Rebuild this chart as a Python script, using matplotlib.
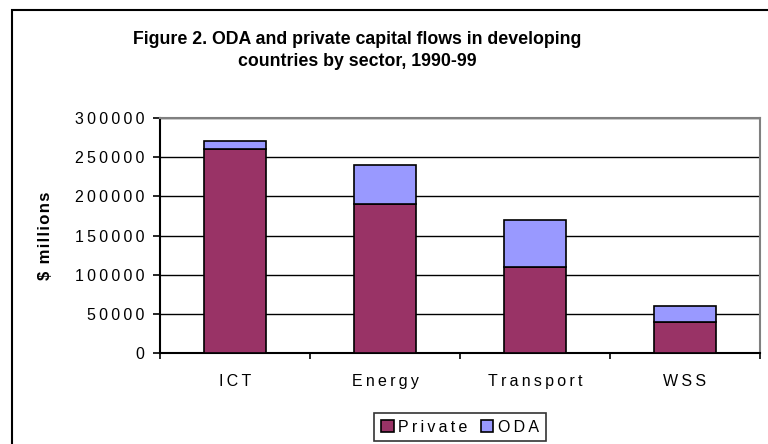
import matplotlib
matplotlib.use("Agg")
import matplotlib.pyplot as plt
from matplotlib.patches import Rectangle
import numpy as np

plt.rcParams["font.family"] = ["Liberation Sans", "DejaVu Sans"]

sectors = ["ICT", "Energy", "Transport", "WSS"]
private = [260000, 190000, 110000, 40000]
oda = [10000, 50000, 60000, 20000]
yticks = [0, 50000, 100000, 150000, 200000, 250000, 300000]


def spaced(s, sep="\u2009"):
    # Excel-style wide letter spacing, faked with thin spaces
    return sep.join(s)


fig = plt.figure(figsize=(7.68, 4.44), dpi=100)
# outer chart border (right and bottom edges fall outside the picture)
fig.patches.append(Rectangle((12/768, -0.1), 1, 1.1 - 10/444, transform=fig.transFigure,
                             fill=False, edgecolor="black", linewidth=1.5))

ax = fig.add_axes([160/768, 1 - 353/444, 600/768, 235/444])
x = np.arange(len(sectors))
ax.bar(x, private, width=0.41, color="#993366", edgecolor="black", linewidth=1.2,
       label=spaced("Private"), zorder=3)
ax.bar(x, oda, width=0.41, bottom=private, color="#9999FF", edgecolor="black",
       linewidth=1.2, label=spaced("ODA"), zorder=3)

ax.set_xlim(-0.5, 3.5)
ax.set_ylim(0, 300000)
ax.set_yticks(yticks)
ax.set_yticklabels([spaced(str(v)) for v in yticks], fontsize=11.5)
ax.yaxis.grid(True, color="black", linewidth=1, zorder=0)
ax.set_xticks(x)
ax.set_xticklabels([spaced(s) for s in sectors], fontsize=11.5)
ax.tick_params(axis="x", length=0, pad=15)
ax.set_xticks(np.arange(-0.5, 4, 1), minor=True)
ax.tick_params(axis="x", which="minor", length=4, width=1.2, direction="out")
ax.tick_params(axis="y", length=5, width=1.2, direction="out", pad=6)
for s in ["left", "bottom"]:
    ax.spines[s].set_linewidth(1.5)
    ax.spines[s].set_color("black")
for s in ["top", "right"]:
    ax.spines[s].set_color("#808080")
    ax.spines[s].set_linewidth(1.5)

ax.set_ylabel(spaced("$ millions", "\u200a"), fontsize=12, fontweight="bold")
ax.yaxis.set_label_coords(-0.178, 0.5)

fig.text(357/768, 1 - 39/444, "Figure 2. ODA and private capital flows in developing",
         ha="center", va="center", fontsize=12.8, fontweight="bold")
fig.text(357/768, 1 - 61/444, "countries by sector, 1990-99",
         ha="center", va="center", fontsize=12.8, fontweight="bold")

leg = fig.legend(loc="center", bbox_to_anchor=(460/768, 1 - 427/444), ncol=2,
                 fontsize=11.5, frameon=True, fancybox=False, edgecolor="black",
                 handlelength=0.8, handleheight=0.8, handletextpad=0.3,
                 columnspacing=0.8, borderpad=0.4)
leg.get_frame().set_linewidth(1.2)

fig.savefig("out.png", dpi=100)
